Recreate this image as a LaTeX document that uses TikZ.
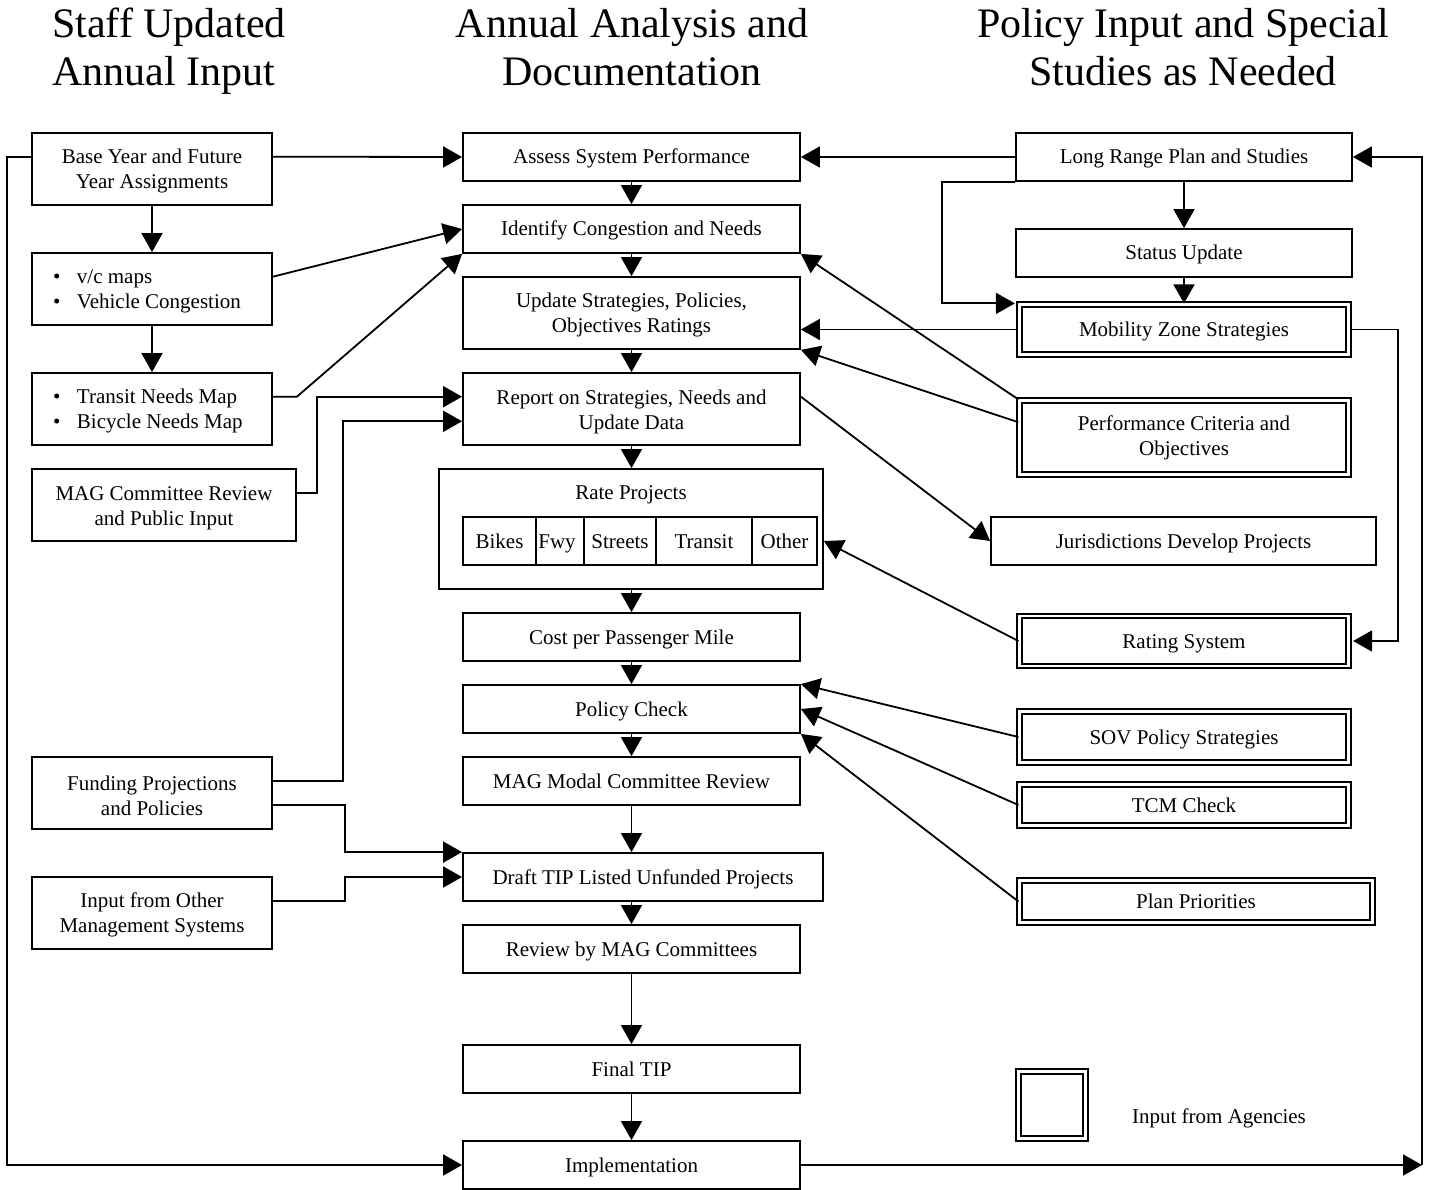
\documentclass[tikz,border=0pt]{standalone}
\usepackage{fontspec}
\setmainfont{Liberation Serif}
\usetikzlibrary{arrows.meta,calc}
\begin{document}
\begin{tikzpicture}[x=1pt,y=-1pt,
  every node/.style={font=\fontsize{21}{25}\selectfont},
  sl/.style={text height=18pt, text depth=4pt},
  ml/.style={execute at begin node={\rule{0pt}{19.5pt}}},
  box/.style={draw, line width=1.8pt, inner sep=2pt, align=center, minimum width=337, minimum height=48},
  lbox/.style={box, ml, align=flush center, text width=232, minimum width=240, minimum height=72},
  cbox/.style={box, ml, align=flush center, text width=330, minimum height=72},
  rbox/.style={box, sl, minimum width=336, minimum height=48},
  dbox/.style={draw, double, double distance=2.4pt, line width=2.2pt, inner sep=2pt, align=center, minimum width=329},
  cell/.style={draw, sl, line width=1.8pt, inner sep=0pt, minimum height=48},
  arr/.style={line width=1.8pt, -{Triangle[length=19pt,width=21pt]}},
  ttl/.style={font=\fontsize{42}{48}\selectfont, inner sep=0pt}]
\useasboundingbox[fill=white] (0,0) rectangle (1430,1190);

% titles
\node[ttl, anchor=base west] (t1a) at (52,38) {Staff Updated};
\node[ttl, anchor=base west] (t1b) at (52,86) {Annual Input};
\node[ttl, anchor=base] (t2a) at (632,38) {Annual Analysis and};
\node[ttl, anchor=base] (t2b) at (632,86) {Documentation};
\node[ttl, anchor=base] (t3a) at (1183,38) {Policy Input and Special};
\node[ttl, anchor=base] (t3b) at (1183,86) {Studies as Needed};

% left column
\node[lbox] (base) at (152,169) {Base Year and Future\\Year Assignments};
\node[lbox, text width=198, align=flush left] (vc) at (152,289) {\makebox[24pt][l]{\textbullet}v/c maps\\\makebox[24pt][l]{\textbullet}Vehicle Congestion};
\node[lbox, text width=198, align=flush left] (tn) at (152,409) {\makebox[24pt][l]{\textbullet}Transit Needs Map\\\makebox[24pt][l]{\textbullet}Bicycle Needs Map};
\node[lbox, text width=256, minimum width=264] (magc) at (164,505) {MAG Committee Review\\and Public Input};
\node[lbox] (fund) at (152,793) {Funding Projections\\and Policies};
\node[lbox] (oth) at (152,913) {Input from Other\\Management Systems};

% center column
\node[box, sl] (assess) at (631.5,157) {Assess System Performance};
\node[box, sl] (ident) at (631.5,229) {Identify Congestion and Needs};
\node[cbox] (upd) at (631.5,313) {Update Strategies, Policies,\\Objectives Ratings};
\node[cbox] (rep) at (631.5,409) {Report on Strategies, Needs and\\Update Data};
\node[box, minimum width=384, minimum height=120] (rate) at (631,529) {};
\node[sl] (ratet) at (631,492) {Rate Projects};
\node[cell, minimum width=73] (c1) at (499.5,541) {Bikes};
\node[cell, minimum width=48] (c2) at (560,541) {\hspace*{-6pt}Fwy};
\node[cell, minimum width=72] (c3) at (620,541) {Streets};
\node[cell, minimum width=96] (c4) at (704,541) {Transit};
\node[cell, minimum width=65] (c5) at (784.5,541) {Other};
\node[box, sl] (cost) at (631.5,637) {Cost per Passenger Mile};
\node[box, sl] (pol) at (631.5,709) {Policy Check};
\node[box, sl] (modal) at (631.5,781) {MAG Modal Committee Review};
\node[box, sl, minimum width=360] (draft) at (643,877) {Draft TIP Listed Unfunded Projects};
\node[box, sl] (rev) at (631.5,949) {Review by MAG Committees};
\node[box, sl] (final) at (631.5,1069) {Final TIP};
\node[box, sl] (impl) at (631.5,1165) {Implementation};

% right column
\node[rbox] (lr) at (1184,157) {Long Range Plan and Studies};
\node[rbox] (su) at (1184,253) {Status Update};
\node[dbox, sl, minimum height=50] (mz) at (1184,329.5) {Mobility Zone Strategies};
\node[dbox, minimum height=74] (perf) at (1184,437.5) {Performance Criteria and\\Objectives};
\node[box, sl, minimum width=385] (jur) at (1183.5,541) {Jurisdictions Develop Projects};
\node[dbox, sl, minimum height=50] (rs) at (1184,641) {Rating System};
\node[dbox, sl, minimum height=51] (sov) at (1184,737) {SOV Policy Strategies};
\node[dbox, sl, minimum height=41] (tcm) at (1184,805) {TCM Check};
\node[dbox, sl, minimum width=353, minimum height=42] (pp) at (1196,901.5) {Plan Priorities};

% legend
\node[dbox, minimum width=67, minimum height=67] (leg) at (1052,1105) {};
\node[sl] (legt) at (1219,1116) {Input from Agencies};

% center flow
\draw[arr] (assess.south) -- (ident.north);
\draw[arr] (ident.south) -- (upd.north);
\draw[arr] (upd.south) -- (rep.north);
\draw[arr] (rep.south) -- (rep.south |- rate.north);
\draw[arr] (rep.south |- rate.south) -- (cost.north);
\draw[arr] (cost.south) -- (pol.north);
\draw[arr] (pol.south) -- (modal.north);
\draw[arr] (modal.south) -- (modal.south |- draft.north);
\draw[arr] (rev.north |- draft.south) -- (rev.north);
\draw[arr] (rev.south) -- (final.north);
\draw[arr] (final.south) -- (impl.north);

% left column links
\coordinate (baseR) at ($(base.north east)!1/3!(base.south east)$);
\coordinate (baseL) at ($(base.north west)!1/3!(base.south west)$);
\coordinate (vcR) at ($(vc.north east)!1/3!(vc.south east)$);
\coordinate (tnR) at ($(tn.north east)!1/3!(tn.south east)$);
\coordinate (magcR) at ($(magc.north east)!1/3!(magc.south east)$);
\coordinate (fundR1) at ($(fund.north east)!1/3!(fund.south east)$);
\coordinate (fundR2) at ($(fund.north east)!2/3!(fund.south east)$);
\coordinate (othR) at ($(oth.north east)!1/3!(oth.south east)$);
\coordinate (repL1) at ($(rep.north west)!1/3!(rep.south west)$);
\coordinate (repL2) at ($(rep.north west)!2/3!(rep.south west)$);
\coordinate (repR) at ($(rep.north east)!1/3!(rep.south east)$);

\draw[arr] (baseR) -- (assess.west);
\draw[arr] (base.south) -- (vc.north);
\draw[arr] (vc.south) -- (tn.north);
\draw[arr] (vcR) -- (ident.west);
\draw[arr] (tnR) -- ++(24,0) -- (ident.south west);
\draw[arr] (magcR) -- ++(20,0) |- (repL1);
\draw[arr] (fundR1) -- ++(70,0) |- (repL2);
\draw[arr] (fundR2) -- ++(72,0) |- (draft.north west);
\draw[arr] (othR) -- ++(72,0) |- (draft.west);
\draw[arr] (baseL) -- ++(-24,0) |- (impl.west);

% right column links
\coordinate (br) at (1422,1165);
\draw[arr] (impl.east) -- (br);
\draw[arr] (br) |- (lr.east);
\draw[arr] (lr.west) -- (assess.east);
\draw[arr] (lr.south) -- (su.north);
\draw[arr] (su.south) -- (su.south |- mz.north);
\draw[arr, shorten >=3.5pt] (lr.south west) -- ++(-73,0) |- (mz.north west);
\draw[arr] (mz.west) -- (mz.west -| upd.east);
\draw[arr, shorten >=3.5pt] (mz.east) -- ++(48,0) |- (rs.east);
\draw[arr] (perf.north west) -- (ident.south east);
\draw[arr] ($(perf.north west)!0.3!(perf.south west)$) -- (upd.south east);
\draw[arr] (repR) -- (jur.west);
\draw[arr] (rs.west) -- (rate.east |- c5.center);
\draw[arr] (sov.west) -- (pol.north east);
\draw[arr] (tcm.west) -- (pol.east);
\draw[arr] (pp.west) -- (pol.south east);
\end{tikzpicture}
\end{document}
